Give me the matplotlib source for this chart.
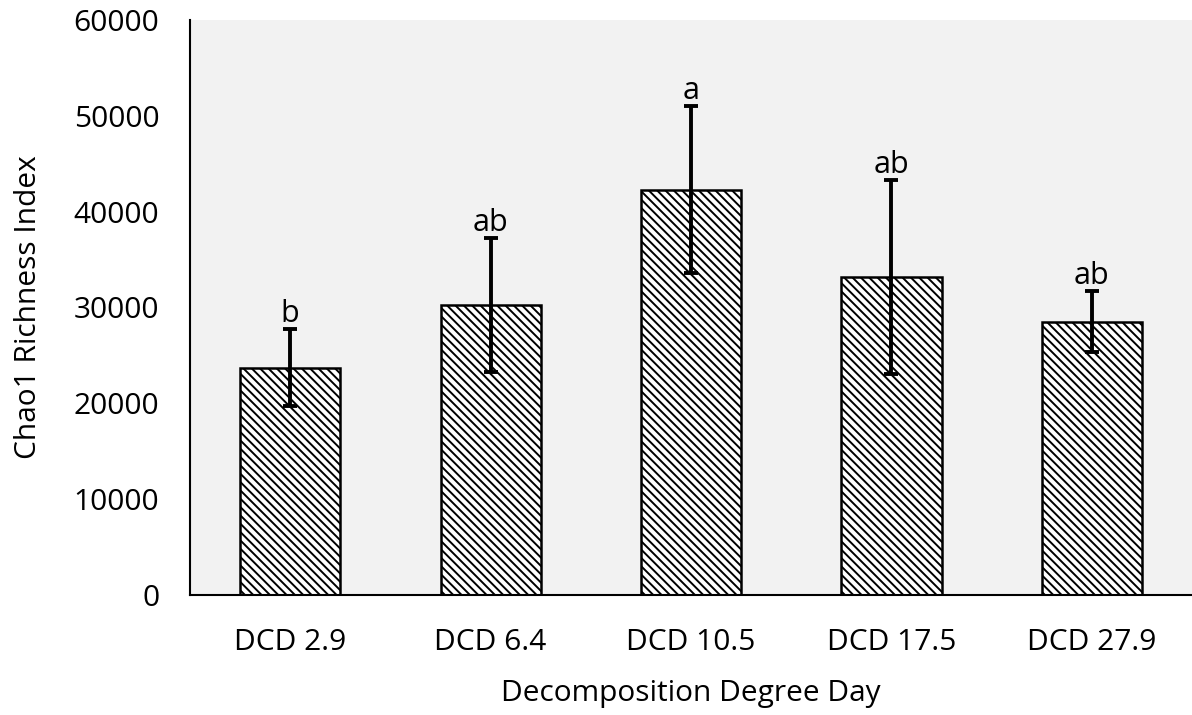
import matplotlib
matplotlib.use("Agg")
import matplotlib.pyplot as plt

# DATA:
categories = ["DCD 2.9", "DCD 6.4", "DCD 10.5", "DCD 17.5", "DCD 27.9"]
chao1_means = [23700, 30300, 42300, 33200, 28500]
chao1_err = [4000, 7000, 8700, 10100, 3200]
letters = ["b", "ab", "a", "ab", "ab"]

plt.rcParams['font.family'] = ['Open Sans', 'DejaVu Sans']
plt.rcParams['hatch.linewidth'] = 1.4

fig = plt.figure(figsize=(11.92, 7.15), dpi=100)
ax = fig.add_axes([0.1594, 0.168, 0.8406, 0.804])
ax.set_facecolor("#f2f2f2")

x = list(range(len(categories)))
ax.bar(x, chao1_means, width=0.5, color="white", edgecolor="black",
       linewidth=1.8, hatch="\\\\\\\\", zorder=2)
ax.errorbar(x, chao1_means, yerr=chao1_err, fmt="none", ecolor="black",
            elinewidth=2.8, capsize=5, capthick=2.8, zorder=3)

for xi, m, e, lab in zip(x, chao1_means, chao1_err, letters):
    ax.annotate(lab, (xi, m + e), xytext=(0, 0), textcoords="offset points",
                ha="center", va="bottom", fontsize=22)

ax.set_xlim(-0.5, 4.5)
ax.set_ylim(0, 60000)
ax.set_yticks(range(0, 60001, 10000))
ax.set_xticks(x)
ax.set_xticklabels(categories)
ax.tick_params(length=0, labelsize=21.5)
ax.tick_params(axis="x", pad=24)
ax.tick_params(axis="y", pad=22)
ax.set_ylabel("Chao1 Richness Index", fontsize=21.5, labelpad=22)
ax.set_xlabel("Decomposition Degree Day", fontsize=21.5, labelpad=16)

for side in ["top", "right"]:
    ax.spines[side].set_visible(False)
ax.spines["left"].set_linewidth(1.5)
ax.spines["bottom"].set_linewidth(1.5)

fig.savefig("out.png", dpi=100)
